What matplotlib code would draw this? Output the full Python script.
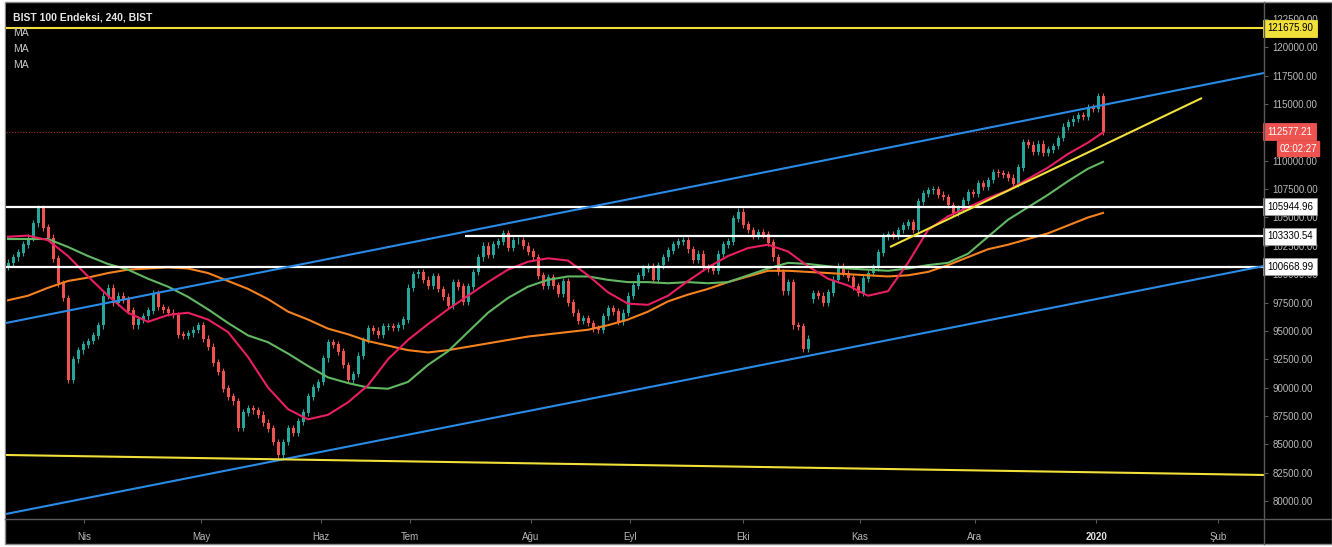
import numpy as np
import matplotlib.pyplot as plt
from matplotlib.patches import Rectangle
from matplotlib.lines import Line2D
from matplotlib.transforms import blended_transform_factory

W, H = 1332, 547

# 4h closes (one candle per ~5 px)
closes = [
    101000, 101500, 101900, 102600, 103200, 104500, 105800, 104100, 103200, 101400,
    99200, 97900, 90700, 92500, 93300, 93800, 94100, 94600, 95500, 98100,
    98800, 97500, 98100, 97800, 96800, 95500, 96000, 96300, 96800, 98300,
    97100, 96900, 96600, 96400, 94700, 94600, 94800, 95100, 95500, 94300,
    93600, 92200, 91400, 89900, 89200, 88800, 86500, 87800, 88200, 88000,
    87600, 86900, 86400, 85200, 84100, 85200, 86400, 86000, 87000, 87800,
    89200, 90000, 90500, 92600, 94000, 93800, 93200, 92000, 90700, 91200,
    92800, 94200, 95200, 95000, 94700, 95400, 95400, 95300, 95500, 96000,
    98800, 100000, 100200, 99500, 99000, 99800, 98700, 98000, 97200, 99300,
    98900, 97600, 98900, 100200, 101500, 102500, 101700, 102600, 102900, 103600,
    102300, 103000, 103000, 102500, 102000, 101500, 99900, 99000, 99700, 99000,
    98300, 99400, 97500, 96600, 95900, 96100, 95700, 95200, 95100, 96300,
    97000, 96700, 95800, 96600, 98100, 99000, 99900, 100500, 100700, 99500,
    100800, 101500, 102100, 102600, 102900, 103000, 102200, 101300, 101800, 100600,
    100500, 100300, 101800, 102600, 102900, 104900, 105500, 104400, 103900, 103400,
    103700, 103500, 102800, 101500, 100200, 98500, 99300, 95500, 95400, 93400,
    94300, 98300, 98100, 97500, 98400, 99500, 100700, 100100, 99700, 98900,
    98400, 99600, 100100, 100600, 101900, 103300, 103500, 103400, 103900, 104300,
    104600, 103900, 106400, 107100, 107400, 107500, 107000, 106800, 106100, 105400,
    105800, 106500, 107200, 107100, 108000, 107700, 108300, 109000, 108900, 108800,
    108500, 108000, 109400, 111600, 111400, 110800, 111500, 110700, 111000, 111300,
    112000, 113000, 113400, 113700, 114000, 113900, 114700, 114600, 115700, 112577.21,
]
first_open = 100700
gap_opens = {161: 97800}

# moving averages, sampled every 4 candles (last one at the final candle)
ma_step = 4
ma_fast = [
    103300, 103400, 103000, 101600, 99800, 98100, 96600, 95800, 96400, 96600,
    96000, 94900, 92700, 90000, 88100, 87200, 87600, 88700, 90200, 92500,
    94200, 95600, 96900, 98100, 99300, 100400, 101100, 101400, 101200, 99900,
    98400, 97400, 97300, 98100, 99400, 100600, 101600, 102300, 102600, 102000,
    100700, 99600, 99000, 98100, 98500, 101000, 103900, 105100, 105900, 106700,
    107400, 108400, 109400, 110600, 111600, 112500,
]
ma_mid = [
    103100, 103100, 103100, 102400, 101600, 100900, 100400, 99600, 98900, 98000,
    96900, 95700, 94600, 94000, 93000, 91900, 90900, 90400, 90000, 89900,
    90500, 92000, 93200, 94900, 96600, 97900, 98900, 99500, 99800, 99800,
    99500, 99300, 99300, 99200, 99300, 99200, 99300, 99900, 100500, 101000,
    100900, 100700, 100500, 100400, 100300, 100500, 100800, 101000, 101800, 103300,
    104800, 105900, 107000, 108200, 109300, 109900,
]
ma_slow = [
    97700, 98100, 98800, 99400, 99700, 100100, 100400, 100500, 100600, 100500,
    100100, 99400, 98700, 97800, 96700, 96000, 95200, 94700, 94100, 93700,
    93300, 93100, 93300, 93600, 93900, 94200, 94500, 94700, 94900, 95100,
    95500, 96000, 96700, 97600, 98200, 98700, 99300, 99800, 100300, 100300,
    100200, 100100, 100000, 99900, 99800, 99900, 100200, 100800, 101500, 102200,
    102600, 103100, 103600, 104300, 105000, 105400,
]

month_labels = ['Nis', 'May', 'Haz', 'Tem', 'Ağu', 'Eyl', 'Eki', 'Kas', 'Ara', '2020', 'Şub']
month_bars = [15.2, 38.6, 62.6, 80.4, 104.6, 124.4, 147, 170.4, 193.4, 217.6, 242]
price_ticks = np.arange(80000, 122501, 2500)

# drawings
level_top = 121675.90
levels_white = [105944.96, 100668.99]
level_mid = 103330.54
level_mid_start = 91.4
last_price = 112577.21
countdown = '02:02:27'
blue_upper = [(-0.4, 95696), (251.2, 117739)]
blue_lower = [(-0.4, 78856), (251.2, 100722)]
yellow_base = [(-0.4, 84058), (251.2, 82294)]
yellow_trend = [(176.4, 102397), (238.8, 115535)]

UP, DN = '#26a69a', '#ef5350'
GRID = '#5a5a5a'
TXT = '#b8b8b8'
plt.rcParams['font.family'] = ['Liberation Sans', 'DejaVu Sans']

fig = plt.figure(figsize=(W / 100, H / 100), dpi=100, facecolor='white')
fig.add_artist(Rectangle((5 / W, 1 - 544 / H), (W - 5) / W, 542 / H, transform=fig.transFigure,
                         facecolor='black', edgecolor='#8a8a8a', lw=1, zorder=-1))
ax = fig.add_axes([6 / W, 1 - 519 / H, (1264 - 6) / W, (519 - 4) / H])
ax.set_facecolor('black')
for s in ax.spines.values():
    s.set_visible(False)
ax.set_xlim(-0.4, 251.2)
ax.set_ylim(78413, 123823)

# candles
n = len(closes)
idx = np.arange(n)
c = np.array(closes, float)
o = np.r_[first_open, c[:-1]]
for k, v in gap_opens.items():
    o[k] = v
lo, hi = np.minimum(o, c), np.maximum(o, c)
cols = np.where(c >= o, UP, DN)
ax.vlines(idx, lo - 300, hi + 300, colors=cols, lw=0.8, zorder=3)
ax.bar(idx, hi - lo + 40, bottom=lo - 20, width=0.6, color=cols, lw=0, zorder=3)

# moving averages
ma_x = np.r_[np.arange(0, n - 3, ma_step), n - 1]
ax.plot(ma_x, ma_slow, color='#f5821f', lw=1.5, zorder=4)
ax.plot(ma_x, ma_mid, color='#62b862', lw=1.5, zorder=4)
ax.plot(ma_x, ma_fast, color='#e91e63', lw=1.5, zorder=4)

# horizontal levels and trend lines
ax.axhline(level_top, color='#f2e03a', lw=1.5, zorder=5)
for lv in levels_white:
    ax.axhline(lv, color='white', lw=1.6, zorder=5)
ax.hlines(level_mid, level_mid_start, 251.2, color='white', lw=1.6, zorder=5)
ax.axhline(last_price, color='#a0302a', lw=0.8, ls=(0, (1, 1.5)), zorder=2)
for pts, col in [(blue_upper, '#2a8be6'), (blue_lower, '#2a8be6'),
                 (yellow_base, '#f2e03a'), (yellow_trend, '#f2e03a')]:
    xs, ys = zip(*pts)
    ax.plot(xs, ys, color=col, lw=1.5, zorder=5, solid_capstyle='butt')

# axes ticks (the 112500 label sits under the last-price tag)
ax.yaxis.tick_right()
ax.set_yticks(price_ticks)
ax.set_yticklabels(['' if abs(v - last_price) < 600 else f'{v:.2f}' for v in price_ticks])
ax.set_xticks(month_bars)
ax.set_xticklabels(month_labels)
ax.tick_params(axis='y', colors=GRID, labelcolor=TXT, labelsize=7, length=3, pad=3)
ax.tick_params(axis='x', colors=GRID, labelcolor=TXT, labelsize=7, length=3, pad=6)
ax.get_xticklabels()[month_labels.index('2020')].set_fontweight('bold')
ax.get_xticklabels()[month_labels.index('2020')].set_color('#e0e0e0')

# price tags on the right scale
tr = blended_transform_factory(ax.transAxes, ax.transData)
def tag(y, text, fc, tc):
    ax.text(1.0025, y, text, transform=tr, ha='left', va='center', fontsize=7, color=tc,
            bbox=dict(boxstyle='square,pad=0.38', fc=fc, ec='#9a9a9a' if fc == 'white' else fc, lw=0.6),
            clip_on=False, zorder=10)

tag(level_top, f'{level_top:.2f}', '#f2e03a', 'black')
tag(last_price, f'{last_price:.2f}', '#ef5350', 'white')
for lv in levels_white + [level_mid]:
    tag(lv, f'{lv:.2f}', 'white', 'black')
ax.annotate(countdown, xy=(1.0, last_price), xycoords=tr, xytext=(34, -17),
            textcoords='offset pixels', ha='center', va='center', fontsize=7, color='white',
            bbox=dict(boxstyle='square,pad=0.25', fc='#ef5350', ec='#ef5350'), annotation_clip=False, zorder=10)

# panel separators
fig.add_artist(Line2D([5 / W, 1], [1 - 519 / H] * 2, color=GRID, lw=1))
fig.add_artist(Line2D([1264 / W] * 2, [1 - 2 / H, 1 - 544 / H], color=GRID, lw=1))

# legend text
fig.text(13 / W, 1 - 17 / H, 'BIST 100 Endeksi, 240, BIST', fontsize=7.5, fontweight='bold',
         color='#e6e6e6', va='center')
for yy in (33, 49, 65):
    fig.text(13 / W, 1 - yy / H, 'MA', fontsize=7.5, color='#c8c8c8', va='center')

fig.savefig('out.png', dpi=100, facecolor=fig.get_facecolor())
